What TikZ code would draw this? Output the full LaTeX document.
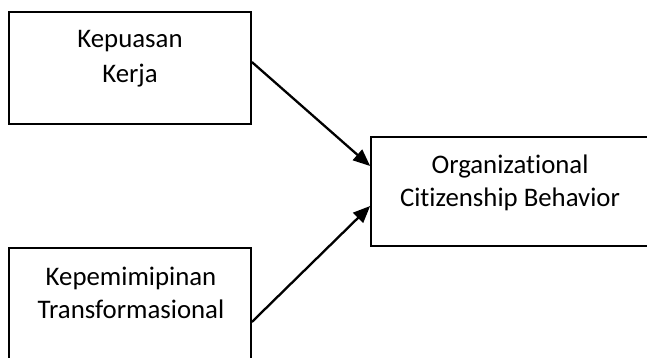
\documentclass[tikz,border=0pt]{standalone}
\usepackage{fontspec}
\setmainfont[Ligatures={NoCommon}]{Carlito}
\usetikzlibrary{arrows.meta}
\begin{document}
\begin{tikzpicture}[x=1pt,y=1pt,
  box/.style={draw=black,line width=1.7pt,minimum width=#1,inner sep=0pt},
  lbl/.style={font=\fontsize{26.8}{32}\selectfont,inner sep=0pt,anchor=base},
  conn/.style={line width=2.3pt,-{Triangle[length=17pt,width=14pt]}}]
\useasboundingbox (0,0) rectangle (647,357);
\clip (0,0) rectangle (647,357);
\fill[white] (0,0) rectangle (647,357);
\node[box=242pt,minimum height=112pt] (kk) at (130,289) {};
\node[box=289pt,minimum height=109pt] (ocb) at (515.5,165.5) {};
\node[box=242pt,minimum height=122pt] (kt) at (130,48) {};
\node[lbl] (t1) at (130,309) {Kepuasan};
\node[lbl] (t2) at (130,275) {Kerja};
\node[lbl] (t3) at (510,184) {Organizational};
\node[lbl] (t4) at (510,151) {Citizenship Behavior};
\node[lbl] (t5) at (131,72) {Kepemimipinan};
\node[lbl] (t6) at (131,39) {Transformasional};
\draw[conn] ([yshift=6pt]kk.east) -- ([yshift=25.5pt]ocb.west);
\draw[conn] ([yshift=-13pt]kt.east) -- ([yshift=-14.5pt]ocb.west);
\end{tikzpicture}
\end{document}
